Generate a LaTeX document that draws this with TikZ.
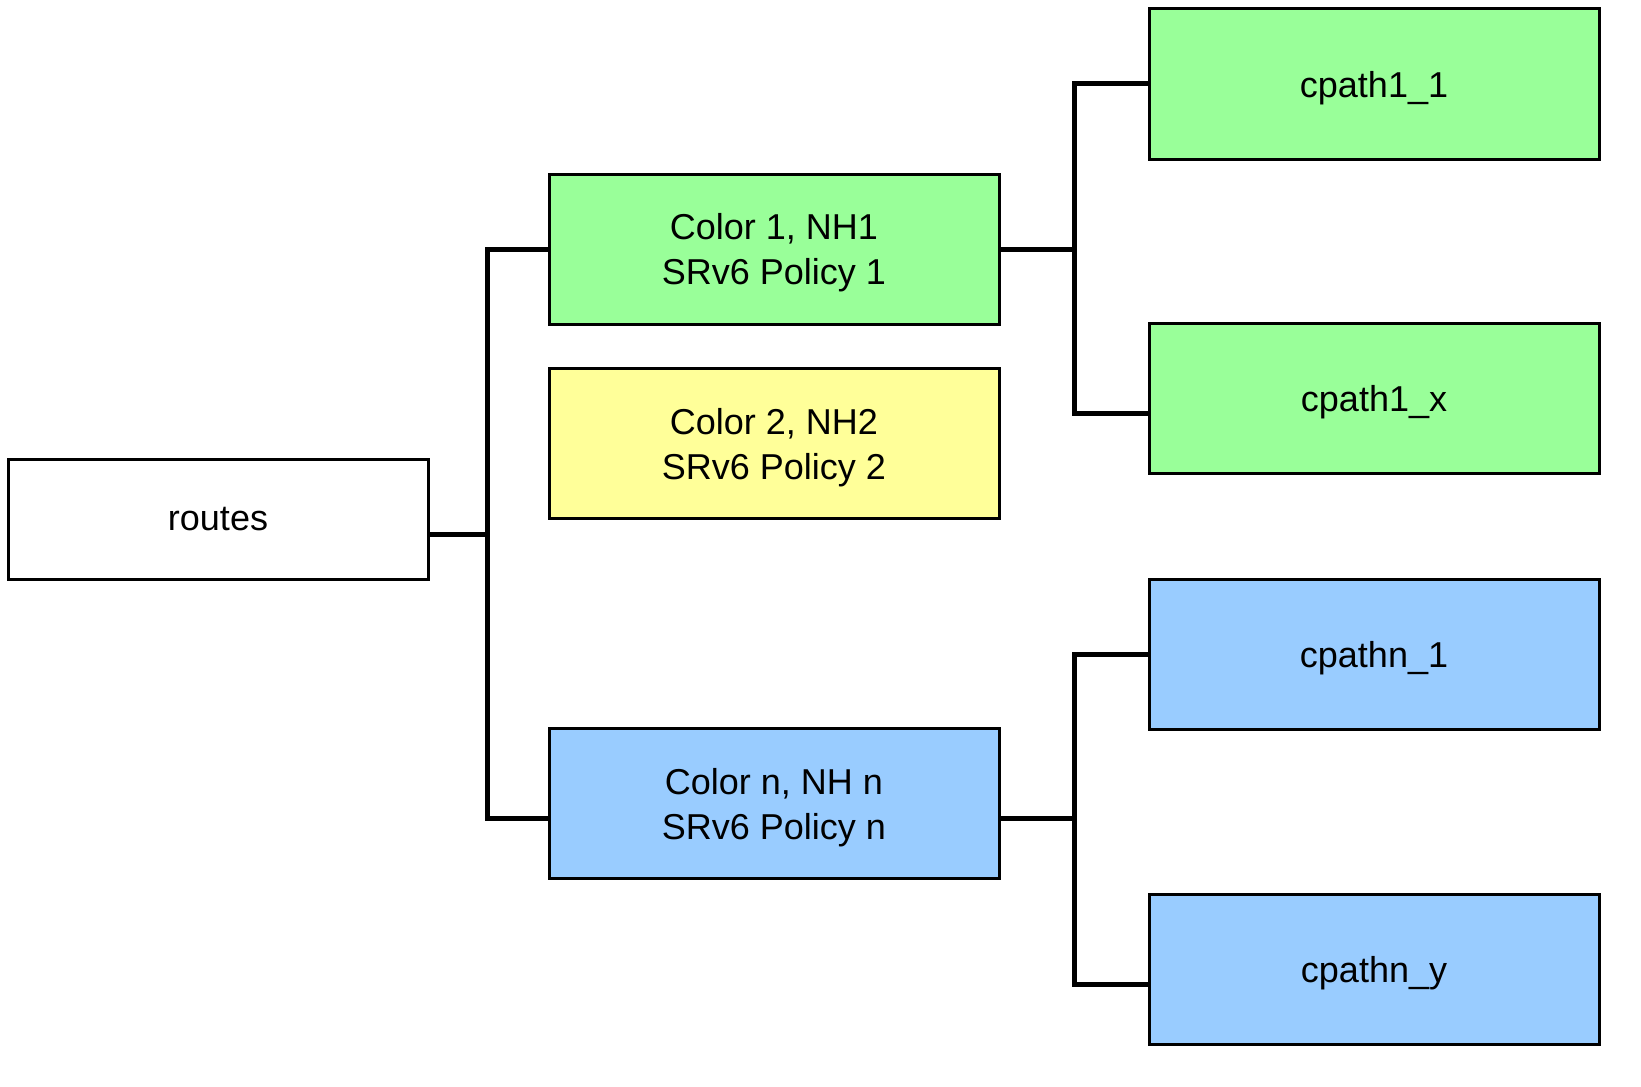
\documentclass[tikz,border=0pt]{standalone}
\usepackage{color}
\usepackage{fontspec}
\setmainfont{Liberation Sans}
\definecolor{pathgreen}{HTML}{99FF99}
\definecolor{pathyellow}{HTML}{FFFF99}
\definecolor{pathblue}{HTML}{99CCFF}
\begin{document}
\begin{tikzpicture}[x=0.5pt, y=-0.5pt,
  box/.style={rectangle, draw, line width=1.5pt, outer sep=0pt, minimum width=225pt, minimum height=75pt, text depth=0pt, align=center, font=\fontsize{18}{22.5}\selectfont},
  conn/.style={line width=2.5pt}]
  \useasboundingbox (0,0) rectangle (1641,1086);
  \node (routes) [box, minimum width=210pt, minimum height=60pt] at (218,519) {routes};
  \node (policy1) [box, fill=pathgreen] at (774,249) {Color 1, NH1\\SRv6 Policy 1};
  \node (policy2) [box, fill=pathyellow] at (774,443.5) {Color 2, NH2\\SRv6 Policy 2};
  \node (policyn) [box, fill=pathblue] at (774,803.5) {Color n, NH n\\SRv6 Policy n};
  \node (cpath11) [box, fill=pathgreen] at (1374,84) {cpath1\_1};
  \node (cpath1x) [box, fill=pathgreen] at (1374,398.5) {cpath1\_x};
  \node (cpathn1) [box, fill=pathblue] at (1374,654) {cpathn\_1};
  \node (cpathny) [box, fill=pathblue] at (1374,969) {cpathn\_y};
  \draw[conn] ([yshift=-7.5pt]routes.east) -- ++(59,0) |- (policy1.west);
  \draw[conn] ([yshift=-7.5pt]routes.east) -- ++(59,0) |- ([yshift=-7.5pt]policyn.west);
  \draw[conn] (policy1.east) -- ++(75,0) |- (cpath11.west);
  \draw[conn] (policy1.east) -- ++(75,0) |- ([yshift=-7.5pt]cpath1x.west);
  \draw[conn] ([yshift=-7.5pt]policyn.east) -- ++(75,0) |- (cpathn1.west);
  \draw[conn] ([yshift=-7.5pt]policyn.east) -- ++(75,0) |- ([yshift=-7.5pt]cpathny.west);
\end{tikzpicture}
\end{document}
